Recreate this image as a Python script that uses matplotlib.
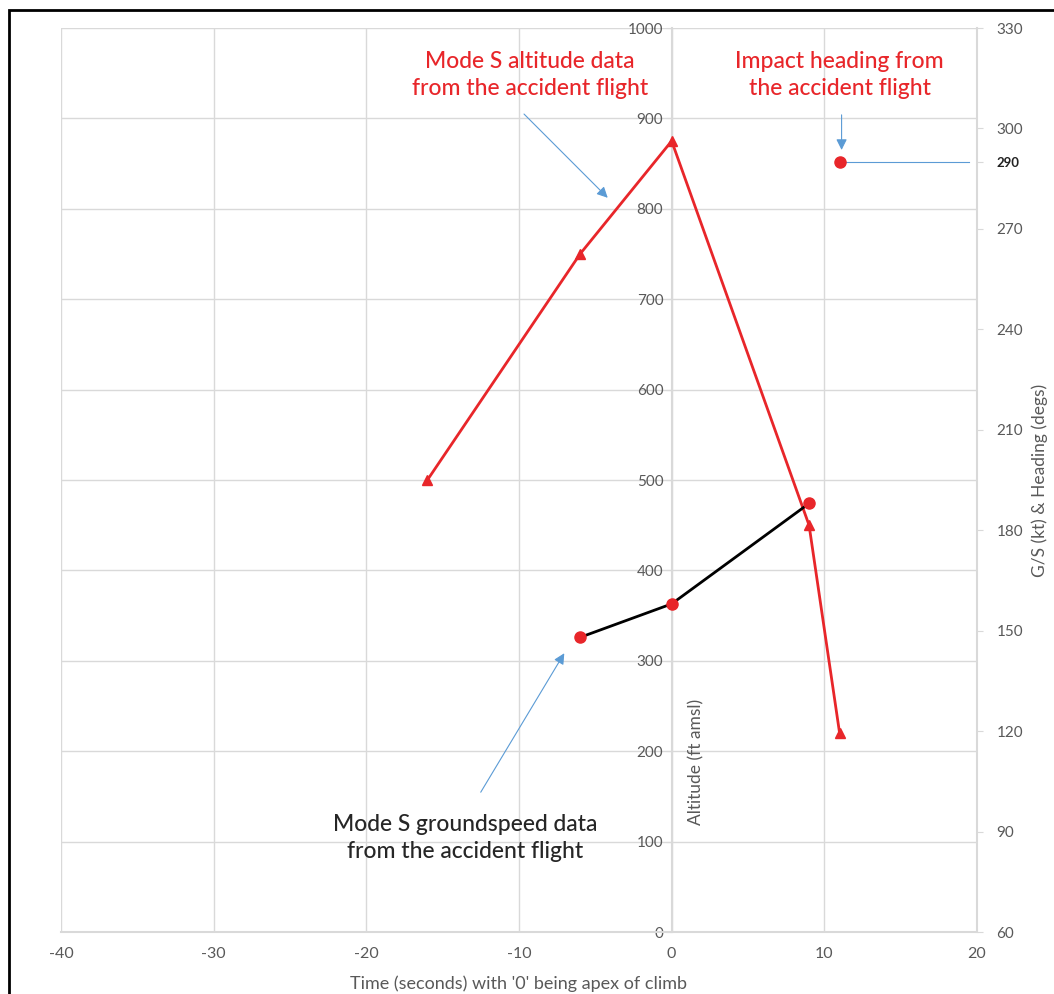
import numpy as np
import matplotlib.pyplot as plt
from matplotlib.patches import Rectangle

plt.rcParams['font.family'] = ['Lato', 'DejaVu Sans']
plt.rcParams['axes.unicode_minus'] = False

# data
alt_time = [-16, -6, 0, 9, 11]
alt_ft = [500, 750, 875, 450, 220]
gs_time = [-6, 0, 9]
gs_kt = [148, 158, 188]
impact_time = [11]
impact_hdg = [290]

x_ticks = list(range(-40, 21, 10))
alt_ticks = list(range(0, 1001, 100))
right_ticks = list(range(60, 331, 30))

red = '#e8262a'
grey = '#595959'
gridc = '#d9d9d9'
blue = '#5b9bd5'

fig = plt.figure(figsize=(10.54, 9.94), dpi=100)
fig.patches.append(Rectangle((9 / 1054, -0.1), 1.2, 1 - 10 / 994 + 0.1,
                             transform=fig.transFigure, fill=False,
                             edgecolor='black', lw=2))
ax = fig.add_axes([61 / 1054, 1 - 932 / 994, 916 / 1054, 904 / 994])
ax.set_xlim(-40, 20)
ax.set_ylim(0, 1000)
ax.set_xticks(x_ticks)
ax.set_yticks(alt_ticks)
ax.grid(True, color=gridc, lw=1)
ax.set_axisbelow(True)
for s in ['top', 'right']:
    ax.spines[s].set_visible(False)
ax.spines['left'].set_position(('data', 0))
ax.spines['left'].set_color(gridc)
ax.spines['bottom'].set_color(gridc)
ax.spines['left'].set_linewidth(1.5)
ax.spines['bottom'].set_linewidth(1.5)
ax.tick_params(axis='y', colors=gridc, labelcolor=grey, labelsize=11, length=4, pad=2)
ax.tick_params(axis='x', colors=gridc, labelcolor=grey, labelsize=11.5, length=0, pad=11)
ax.set_xlabel("Time (seconds) with '0' being apex of climb", color=grey, fontsize=13)
ax.xaxis.set_label_coords(0.5, -0.048)
ax.text(1.6, 188, 'Altitude (ft amsl)', rotation=90, ha='center', va='center',
        color=grey, fontsize=12.5)

ax.plot(alt_time, alt_ft, color=red, lw=2, marker='^', markersize=7, zorder=3)

ax2 = ax.twinx()
ax2.set_ylim(60, 330)
ax2.set_yticks(right_ticks + [290])
for s in ['top', 'left', 'bottom']:
    ax2.spines[s].set_visible(False)
ax2.spines['right'].set_color(gridc)
ax2.spines['right'].set_linewidth(1.5)
ax2.tick_params(axis='y', colors=gridc, labelcolor=grey, labelsize=11, length=4, pad=10)
for lab in ax2.get_yticklabels():
    if lab.get_text() == '290':
        lab.set_color('#222222')
        lab.set_fontweight('bold')
        lab.set_fontsize(9.5)
ylab = ax2.set_ylabel('G/S (kt) & Heading (degs)', color=grey, fontsize=12.5)
ax2.yaxis.set_label_coords(1.068, 0.5)
ylab.set_verticalalignment('center')

ax2.plot(gs_time, gs_kt, color='black', lw=2, marker='o', markersize=8,
         markerfacecolor=red, markeredgecolor=red, zorder=3)
ax2.plot(impact_time, impact_hdg, 'o', color=red, markersize=8, zorder=3)
ax2.plot([impact_time[0] + 0.4, 19.5], [impact_hdg[0], impact_hdg[0]], color=blue, lw=0.8)

arrow = dict(arrowstyle='-|>', color=blue, lw=0.8, mutation_scale=16)
ax2.annotate('', xy=(-4.06, 60 + 810 * 0.27), xytext=(-9.8, 60 + 907 * 0.27), arrowprops=arrow)
ax2.annotate('', xy=(11.13, 60 + 862 * 0.27), xytext=(11.13, 60 + 907 * 0.27), arrowprops=arrow)
ax2.annotate('', xy=(-6.94, 60 + 311 * 0.27), xytext=(-12.6, 60 + 152 * 0.27), arrowprops=arrow)

ax2.text(-9.3, 60 + 948 * 0.27, 'Mode S altitude data\nfrom the accident flight',
         ha='center', va='center', color=red, fontsize=16.5, fontweight='medium',
         linespacing=1.35)
ax2.text(11.0, 60 + 948 * 0.27, 'Impact heading from\nthe accident flight',
         ha='center', va='center', color=red, fontsize=16.5, fontweight='medium',
         linespacing=1.35)
ax2.text(-13.5, 60 + 104 * 0.27, 'Mode S groundspeed data\nfrom the accident flight',
         ha='center', va='center', color='#262626', fontsize=16.5, fontweight='medium',
         linespacing=1.35)

fig.savefig('out.png', dpi=100)
